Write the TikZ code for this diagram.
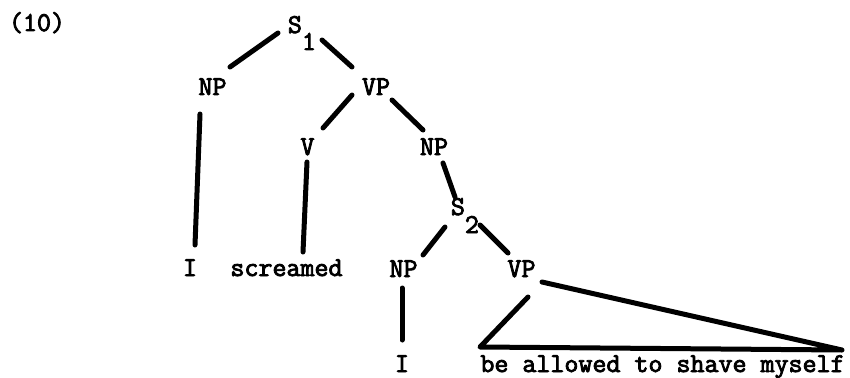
\documentclass[tikz,border=0pt]{standalone}
\usepackage{fontspec}
\newfontfamily\tw[FakeBold=3]{Latin Modern Mono}
\usetikzlibrary{calc}
\begin{document}
\begin{tikzpicture}[x=1pt,y=-1pt,
  lbl/.style={font=\tw\fontsize{27.2}{30}\selectfont, inner sep=0pt, anchor=base},
  branch/.style={line width=5pt, line cap=round, line join=round}]
\useasboundingbox (0,0) rectangle (850,377);
% labels
\node[lbl] (num) at (37,31) {(10)};
\node[lbl, anchor=base west] (s1) at (287.7,33) {S\raisebox{-17pt}{1}};
\node[lbl] (np1) at (212.5,95) {NP};
\node[lbl] (vp1) at (376,95) {VP};
\node[lbl] (v) at (307.5,155) {V};
\node[lbl] (np2) at (434,155) {NP};
\node[lbl, anchor=base west] (s2) at (450.7,215) {S\raisebox{-18pt}{2}};
\node[lbl] (np3) at (403.5,277) {NP};
\node[lbl] (vp2) at (521.5,277) {VP};
\node[lbl] (i1) at (190,276) {I};
\node[lbl] (scr) at (286.5,276) {screamed};
\node[lbl] (i2) at (402,372) {I};
\node[lbl] (be) at (662.5,372) {be allowed to shave myself};
\coordinate (tl) at ($(be.base)+(-182.5,-25)$);
\coordinate (tr) at ($(be.base)+(179.5,-22)$);
% branches
\draw[branch] ($(np1.base)+(17.5,-28)$) -- ($(s1.base west)+(-9.7,0)$);
\draw[branch] ($(s1.base west)+(34.3,7)$) -- ($(vp1.base)+(-24,-28)$);
\draw[branch] ($(np1.base)+(-12.5,19)$) -- ($(i1.base)+(5,-31)$);
\draw[branch] ($(vp1.base)+(-24,0)$) -- ($(v.base)+(15.5,-27)$);
\draw[branch] ($(vp1.base)+(16,5)$) -- ($(np2.base)+(-11,-25)$);
\draw[branch] ($(v.base)+(-0.5,7)$) -- ($(scr.base)+(16.5,-24)$);
\draw[branch] ($(np2.base)+(9,8)$) -- ($(s2.base west)+(4.3,-18)$);
\draw[branch] ($(s2.base west)+(-5.7,12)$) -- ($(np3.base)+(19.5,-22)$);
\draw[branch] ($(s2.base west)+(29.3,10)$) -- ($(vp2.base)+(-13.5,-24)$);
\draw[branch] ($(np3.base)+(-1.5,11)$) -- ($(i2.base)+(0,-32)$);
\draw[branch] ($(vp2.base)+(6.5,20)$) -- (tl) -- (tr) -- ($(vp2.base)+(20.5,5)$);
\end{tikzpicture}
\end{document}
